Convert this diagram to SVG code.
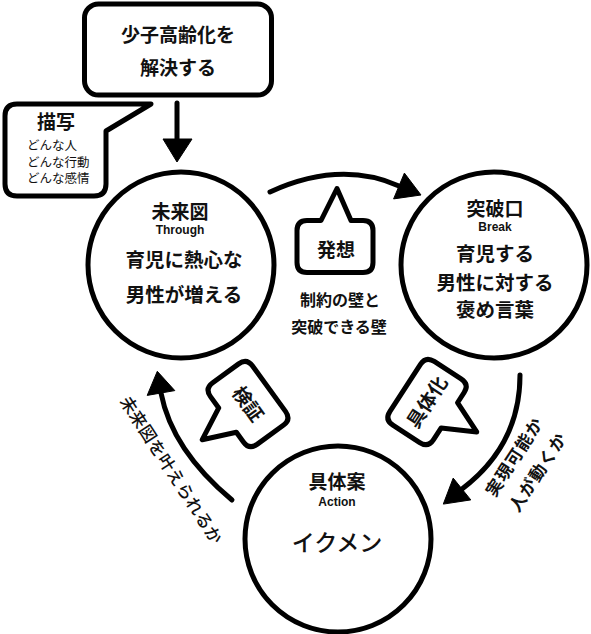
<svg xmlns="http://www.w3.org/2000/svg" xmlns:xlink="http://www.w3.org/1999/xlink" width="591" height="634" viewBox="0 0 591 634">
<style>
.shape{fill:#fff;stroke:#000;stroke-width:5;stroke-linejoin:round}
.line{fill:none;stroke:#000;stroke-width:5;stroke-linecap:round}
.head{fill:#000;stroke:#000;stroke-width:1;stroke-linejoin:round}
.jp{font-family:"Noto Sans CJK JP","Noto Sans",sans-serif;fill:#111;text-anchor:middle}
.b{font-weight:700}
.en{font-family:"Liberation Sans",Arial,sans-serif;font-weight:700;font-size:12px;fill:#111;text-anchor:middle}
.small{font-family:"Noto Sans CJK JP","Noto Sans",sans-serif;fill:#111;font-size:12.5px}
</style>
<defs>
<path id="bubble" d="M -28,-26 L -14,-26 L 2,-58 L 16,-26 L 28,-26 Q 38,-26 38,-16 L 38,16 Q 38,26 28,26 L -28,26 Q -38,26 -38,16 L -38,-16 Q -38,-26 -28,-26 Z"/>
</defs>
<rect width="591" height="634" fill="#fff"/>

<g id="connectors">
<path class="line" d="M177,103 L177,140"/>
<polygon class="head" points="163,139 192,139 177,162"/>
<path class="line" d="M270,192 Q340,160 399,186"/>
<polygon class="head" points="404.4,173.1 393.6,198.9 421,195"/>
<path class="line" d="M520,375 Q520,445 462,489"/>
<polygon class="head" points="470.8,499.9 453.2,478.1 443.3,504.1"/>
<path class="line" d="M232,500 Q172,450 161,393"/>
<polygon class="head" points="174.8,390.6 147.2,395.4 157.3,371.3"/>
</g>

<g id="goal">
<rect class="shape" x="84.5" y="4" width="187" height="91" rx="14"/>
<text class="jp b" x="178" y="42" font-size="19">少子高齢化を</text>
<text class="jp b" x="178" y="75" font-size="19">解決する</text>
</g>

<g id="depiction">
<path class="shape" d="M17,104 L151,104 L106,131 L106,184 Q106,196 94,196 L17,196 Q5,196 5,184 L5,116 Q5,104 17,104 Z"/>
<text class="jp b" x="56" y="129" font-size="19">描写</text>
<text class="small" x="27" y="150">どんな人</text>
<text class="small" x="27" y="166.5">どんな行動</text>
<text class="small" x="27" y="183">どんな感情</text>
</g>

<g id="future">
<circle class="shape" cx="181" cy="265" r="93"/>
<text class="jp b" x="180" y="219" font-size="19">未来図</text>
<text class="en" x="180" y="234">Through</text>
<text class="jp b" x="184" y="267" font-size="19.5">育児に熱心な</text>
<text class="jp b" x="184" y="302" font-size="19.5">男性が増える</text>
</g>

<g id="breakthrough">
<circle class="shape" cx="494" cy="265" r="93"/>
<text class="jp b" x="495" y="216" font-size="19">突破口</text>
<text class="en" x="495" y="231">Break</text>
<text class="jp b" x="495" y="261" font-size="19.5">育児する</text>
<text class="jp b" x="495" y="290" font-size="19.5">男性に対する</text>
<text class="jp b" x="495" y="317" font-size="19.5">褒め言葉</text>
</g>

<g id="action">
<circle class="shape" cx="338" cy="539" r="93"/>
<text class="jp b" x="337" y="489" font-size="19">具体案</text>
<text class="en" x="337" y="506">Action</text>
<text class="jp" x="337" y="551" font-size="23" font-weight="500">イクメン</text>
</g>

<g id="idea">
<use xlink:href="#bubble" href="#bubble" class="shape" transform="translate(335,246.5)"/>
<text class="jp b" x="336" y="257" font-size="19">発想</text>
<text class="jp b" x="340" y="306" font-size="16">制約の壁と</text>
<text class="jp b" x="339" y="333" font-size="16">突破できる壁</text>
</g>

<g id="verify" transform="translate(248,404) rotate(54)">
<use xlink:href="#bubble" href="#bubble" class="shape" transform="scale(1,-1)"/>
<text class="jp b" x="0" y="7" font-size="19">検証</text>
</g>

<g id="concretize" transform="translate(427,402) rotate(-57)">
<use xlink:href="#bubble" href="#bubble" class="shape" transform="scale(1,-1)"/>
<text class="jp b" x="0" y="7" font-size="19">具体化</text>
</g>

<g id="label-left" transform="translate(171,470) rotate(57)">
<text class="jp" x="0" y="6" font-size="17" font-weight="500" textLength="172" lengthAdjust="spacing">未来図を叶えられるか</text>
</g>

<g id="label-right" transform="translate(526,465) rotate(-57)">
<text class="jp b" x="0" y="-8" font-size="17" textLength="89" lengthAdjust="spacing">実現可能か</text>
<text class="jp b" x="0" y="20" font-size="17" textLength="89" lengthAdjust="spacing">人が動くか</text>
</g>
</svg>
